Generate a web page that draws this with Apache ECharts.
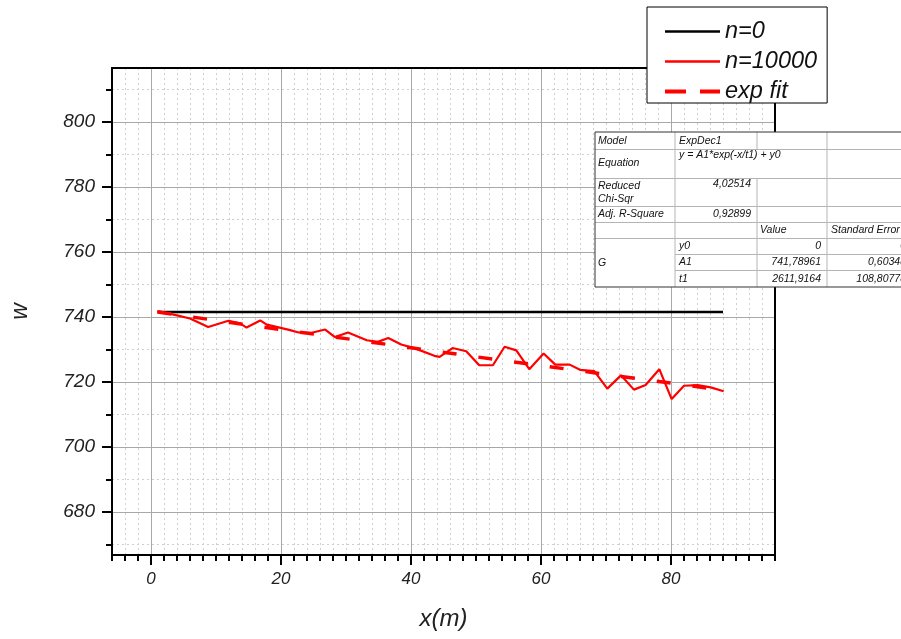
<!DOCTYPE html>
<html>
<head>
<meta charset="utf-8">
<script src="https://cdn.jsdelivr.net/npm/echarts@6/dist/echarts.min.js"></script>
<style>html,body{margin:0;padding:0;background:#fff}#c{width:901px;height:639px}</style>
</head>
<body>
<div id="c"></div>
<script>
// ---- data ----
const xMajorTicks = [0, 20, 40, 60, 80];
const xMinorTicks = [-6, -4, -2, 2, 4, 6, 8, 10, 12, 14, 16, 18, 22, 24, 26, 28, 30, 32, 34, 36, 38,
  42, 44, 46, 48, 50, 52, 54, 56, 58, 62, 64, 66, 68, 70, 72, 74, 76, 78, 82, 84, 86, 88, 90, 92, 94, 96];
const yMajorTicks = [680, 700, 720, 740, 760, 780, 800];
const yMinorTicks = [670, 690, 710, 730, 750, 770, 790, 810];

const n0X = [1, 88];
const n0Y = [741.5, 741.5];

const n10000X = [1, 3.5, 6, 8.8, 11.9, 13.7, 14.7, 16.8, 17.8, 19.3, 21.4, 22.7, 24.7, 26.8, 28.3, 30.3,
  33.2, 34.9, 36.5, 38.5, 40.6, 43.6, 44.4, 46.4, 48.5, 50.5, 52.6, 54.4, 56.2, 58.2, 60.4, 62.2, 64.4,
  66, 68.2, 70.2, 72.3, 74.3, 76.1, 78.2, 80.1, 82.0, 84.1, 86.1, 88.1];
const n10000Y = [741.8, 740.7, 739.5, 736.9, 738.8, 738.0, 736.7, 738.9, 737.6, 736.9, 735.9, 735.2, 735.1,
  736.1, 733.8, 735.2, 732.8, 732.3, 733.5, 731.5, 730.3, 728.0, 727.7, 730.4, 729.4, 725.1, 725.1, 730.8,
  729.7, 723.9, 728.7, 725.3, 725.3, 723.7, 723.3, 717.9, 722.0, 717.6, 719.0, 723.9, 714.7, 718.8, 719.0,
  718.3, 717.1];

const fitX = [1, 10, 20, 30, 40, 50, 60, 70, 80, 88];
const fitY = [741.5, 738.9, 736.1, 733.3, 730.5, 727.7, 725.0, 722.3, 719.6, 717.4];

const seriesNames = ['n=0', 'n=10000', 'exp fit'];

// fit report table
const tableCol1 = ['Model', 'Equation', 'Reduced\nChi-Sqr', 'Adj. R-Square', '', 'G'];
const tableModel = 'ExpDec1';
const tableEquation = 'y = A1*exp(-x/t1) + y0';
const tableChiSqr = '4,02514';
const tableR2 = '0,92899';
const tableHeader = ['Value', 'Standard Error'];
const paramNames = ['y0', 'A1', 't1'];
const paramValues = ['0', '741,78961', '2611,9164'];
const paramErrors = ['0', '0,60348', '108,80778'];

// ---- helpers ----
const zip = (a, b) => a.map((v, i) => [v, b[i]]);
const FONT = 'Liberation Sans, Arial, sans-serif';

// ---- table graphic ----
const cx = [595, 675, 757, 827, 912];
const ry = [132, 149.5, 178.5, 206.5, 222.5, 238.5, 254.5, 270.5, 287];
const inner = '#b4b4b4', outer = '#333';
const els = [];
els.push({type: 'rect', shape: {x: cx[0], y: ry[0], width: cx[4] - cx[0], height: ry[8] - ry[0]},
  style: {fill: '#fff', stroke: null}, z: 50});
function hline(x1, x2, y, c) { els.push({type: 'line', shape: {x1, y1: y, x2, y2: y}, style: {stroke: c, lineWidth: 1}, z: 51}); }
function vline(x, y1, y2, c) { els.push({type: 'line', shape: {x1: x, y1, x2: x, y2}, style: {stroke: c, lineWidth: 1}, z: 51}); }
for (let i = 1; i < 8; i++) {
  if (i >= 6) hline(cx[1], cx[4], ry[i], inner); else hline(cx[0], cx[4], ry[i], inner);
}
vline(cx[1], ry[0], ry[8], inner);
vline(cx[2], ry[0], ry[1], inner);
vline(cx[2], ry[2], ry[8], inner);
vline(cx[3], ry[0], ry[8], inner);
hline(cx[0], cx[4], ry[0], outer);
hline(cx[0], cx[4], ry[8], outer);
vline(cx[0], ry[0], ry[8], outer);
function txt(s, x, y, align, va) {
  els.push({type: 'text', x, y, z: 52, style: {text: s, fill: '#111', font: 'italic 10.5px ' + FONT,
    align: align || 'left', verticalAlign: va || 'middle', lineHeight: 12.6}});
}
const rowMid = i => (ry[i] + ry[i + 1]) / 2;
txt(tableCol1[0], 598, rowMid(0));
txt(tableCol1[1], 598, rowMid(1) - 0.5);
txt(tableCol1[2], 598, rowMid(2));
txt(tableCol1[3], 598, rowMid(3));
txt(tableCol1[5], 598, (ry[5] + ry[8]) / 2);
txt(tableModel, 679, rowMid(0));
txt(tableEquation, 679, ry[1] + 6);
txt(tableChiSqr, 751, ry[2] + 6, 'right');
txt(tableR2, 751, rowMid(3), 'right');
txt(tableHeader[0], 760, rowMid(4));
txt(tableHeader[1], 831, rowMid(4));
for (let i = 0; i < 3; i++) {
  txt(paramNames[i], 679, rowMid(5 + i));
  txt(paramValues[i], 821, rowMid(5 + i), 'right');
  txt(paramErrors[i], 906, rowMid(5 + i), 'right');
}

// ---- chart ----
const chart = echarts.init(document.getElementById('c'), null, {renderer: 'canvas'});
const xCommon = {type: 'value', min: -6, max: 96};
const yCommon = {type: 'value', min: 666.7, max: 816.6};
const noSymbol = {color: 'rgba(0,0,0,0)', borderWidth: 0, opacity: 0};
chart.setOption({
  animation: false,
  backgroundColor: '#fff',
  textStyle: {fontFamily: FONT},
  grid: {left: 112, right: 126, top: 68, bottom: 84, containLabel: false},
  legend: {
    orient: 'vertical', left: 647, top: 7,
    padding: [13, 10, 0, 16], itemWidth: 55, itemHeight: 22, itemGap: 7,
    backgroundColor: '#fff', borderColor: '#000', borderWidth: 1,
    selectedMode: false, z: 20,
    itemStyle: noSymbol,
    textStyle: {fontSize: 23.5, fontStyle: 'italic', color: '#111', fontFamily: FONT, lineHeight: 22},
    data: [
      {name: seriesNames[0], itemStyle: noSymbol, lineStyle: {width: 2.5, color: '#000'}},
      {name: seriesNames[1], itemStyle: noSymbol, lineStyle: {width: 2.5, color: '#ff0000'}},
      {name: seriesNames[2], itemStyle: noSymbol, lineStyle: {type: [21, 14], width: 4, color: '#ff0000'}}
    ]
  },
  xAxis: [
    Object.assign({}, xCommon, {
      position: 'bottom',
      axisLine: {show: true, onZero: false, lineStyle: {color: '#000', width: 2}},
      axisTick: {show: true, customValues: xMajorTicks, length: 10, lineStyle: {color: '#000', width: 2}},
      axisLabel: {customValues: xMajorTicks, margin: 16, fontSize: 17, fontStyle: 'italic', color: '#222'},
      splitLine: {show: true, lineStyle: {color: '#a8a8a8', width: 1}},
      name: 'x(m)', nameLocation: 'middle', nameGap: 52,
      nameTextStyle: {fontSize: 24, fontStyle: 'italic', color: '#222'}
    }),
    Object.assign({}, xCommon, {
      position: 'bottom',
      axisLine: {show: false, onZero: false},
      axisTick: {show: true, customValues: xMinorTicks, length: 6, lineStyle: {color: '#000', width: 2}},
      axisLabel: {show: false},
      splitLine: {show: true, lineStyle: {color: '#cfcfcf', width: 1, type: [2, 3]}}
    }),
    Object.assign({}, xCommon, {
      position: 'top',
      axisLine: {show: true, onZero: false, lineStyle: {color: '#000', width: 2}},
      axisTick: {show: false}, axisLabel: {show: false}, splitLine: {show: false}
    })
  ],
  yAxis: [
    Object.assign({}, yCommon, {
      position: 'left',
      axisLine: {show: true, onZero: false, lineStyle: {color: '#000', width: 2}},
      axisTick: {show: true, customValues: yMajorTicks, length: 10, lineStyle: {color: '#000', width: 2}},
      axisLabel: {customValues: yMajorTicks, margin: 17, fontSize: 19, fontStyle: 'italic', color: '#222'},
      splitLine: {show: true, lineStyle: {color: '#a8a8a8', width: 1}},
      name: 'w', nameLocation: 'middle', nameGap: 80, nameRotate: 90,
      nameTextStyle: {fontSize: 23, fontStyle: 'italic', color: '#222'}
    }),
    Object.assign({}, yCommon, {
      position: 'left',
      axisLine: {show: false, onZero: false},
      axisTick: {show: true, customValues: yMinorTicks, length: 6, lineStyle: {color: '#000', width: 2}},
      axisLabel: {show: false},
      splitLine: {show: true, lineStyle: {color: '#cfcfcf', width: 1, type: [2, 3]}}
    }),
    Object.assign({}, yCommon, {
      position: 'right',
      axisLine: {show: true, onZero: false, lineStyle: {color: '#000', width: 2}},
      axisTick: {show: false}, axisLabel: {show: false}, splitLine: {show: false}
    })
  ],
  series: [
    {type: 'line', name: seriesNames[0], data: zip(n0X, n0Y), symbol: 'none', showSymbol: false,
      lineStyle: {color: '#000', width: 2.5}, itemStyle: {color: '#000'}, z: 3},
    {type: 'line', name: seriesNames[1], data: zip(n10000X, n10000Y), symbol: 'none', showSymbol: false,
      lineStyle: {color: '#ff0000', width: 2.2}, itemStyle: {color: '#ff0000'}, z: 4},
    {type: 'line', name: seriesNames[2], data: zip(fitX, fitY), symbol: 'none', showSymbol: false,
      lineStyle: {color: '#ff0000', width: 3.5, type: [14, 22]}, itemStyle: {color: '#ff0000'}, z: 5}
  ],
  graphic: {elements: els}
});
</script>
</body>
</html>
